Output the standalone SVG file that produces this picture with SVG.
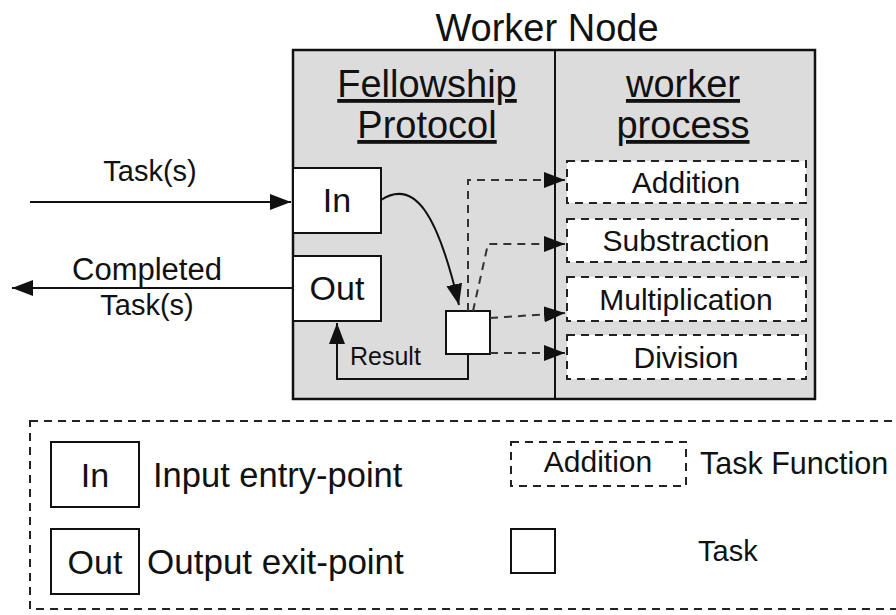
<svg xmlns="http://www.w3.org/2000/svg" width="896" height="615" viewBox="0 0 896 615">
<style>
text{font-family:"Liberation Sans",Arial,sans-serif;fill:#111}
.box{fill:#fff;stroke:#111;stroke-width:2}
.dbox{fill:#fff;stroke:#222;stroke-width:2;stroke-dasharray:8,6}
.ln{fill:none;stroke:#111;stroke-width:2}
.dl{fill:none;stroke:#333;stroke-width:2;stroke-dasharray:8,6}
.c{text-anchor:middle}
.u{text-decoration:underline}
</style>
<defs>
<marker id="ah" markerUnits="userSpaceOnUse" markerWidth="21" markerHeight="16" refX="21" refY="8" orient="auto">
<path d="M0,0 L21,8 L0,16 Z" fill="#111"/>
</marker>
</defs>
<g id="worker-node">
<rect x="293" y="50" width="522" height="349" fill="#dcdcdc" stroke="#111" stroke-width="2.5"/>
<line x1="555" y1="50" x2="555" y2="399" stroke="#111" stroke-width="2"/>
<text x="547" y="41" class="c" font-size="38">Worker Node</text>
<text x="427" y="97" class="c u" font-size="38">Fellowship</text>
<text x="427" y="138" class="c u" font-size="38">Protocol</text>
<text x="683" y="97" class="c u" font-size="38">worker</text>
<text x="683" y="138" class="c u" font-size="38">process</text>
</g>
<g id="in"><rect class="box" x="293" y="168" width="88" height="65"/><text x="337" y="212" class="c" font-size="34">In</text></g>
<g id="out"><rect class="box" x="293" y="256" width="88" height="65"/><text x="337" y="300" class="c" font-size="34">Out</text></g>
<g id="task"><rect class="box" x="446" y="311" width="44" height="43"/></g>
<g id="addition"><rect class="dbox" x="567" y="161" width="239" height="42"/><text x="686" y="193" class="c" font-size="30">Addition</text></g>
<g id="substraction"><rect class="dbox" x="567" y="219" width="239" height="43"/><text x="686" y="251" class="c" font-size="30">Substraction</text></g>
<g id="multiplication"><rect class="dbox" x="567" y="277" width="239" height="44"/><text x="686" y="310" class="c" font-size="30">Multiplication</text></g>
<g id="division"><rect class="dbox" x="567" y="335" width="239" height="44"/><text x="686" y="368" class="c" font-size="30">Division</text></g>
<g id="connectors">
<line class="ln" x1="30" y1="202" x2="291" y2="202" marker-end="url(#ah)"/>
<text x="150" y="181" class="c" font-size="29">Task(s)</text>
<line class="ln" x1="293" y1="288" x2="12" y2="288" marker-end="url(#ah)"/>
<text x="147" y="280" class="c" font-size="31">Completed</text>
<text x="147" y="315" class="c" font-size="29">Task(s)</text>
<path class="ln" d="M381,200 C415,178 438,215 459,305" marker-end="url(#ah)"/>
<path class="dl" d="M468,311 V180 H565" marker-end="url(#ah)"/>
<path class="dl" d="M473,311 L488,244 H565" marker-end="url(#ah)"/>
<path class="dl" d="M490,318 L565,313" marker-end="url(#ah)"/>
<path class="dl" d="M490,353 H565" marker-end="url(#ah)"/>
<path class="ln" d="M468,354 V379 H337 V323" marker-end="url(#ah)"/>
<text x="350" y="365" font-size="25">Result</text>
</g>
<g id="legend">
<rect x="30" y="421" width="900" height="188" fill="none" stroke="#222" stroke-width="2" stroke-dasharray="8,6"/>
<rect class="box" x="51" y="442" width="88" height="65"/><text x="95" y="487" class="c" font-size="34">In</text>
<text x="153" y="487" font-size="34.5">Input entry-point</text>
<rect class="box" x="51" y="529" width="88" height="65"/><text x="95" y="574" class="c" font-size="34">Out</text>
<text x="147" y="574" font-size="35">Output exit-point</text>
<rect class="dbox" x="511" y="442" width="175" height="44"/><text x="598" y="472" class="c" font-size="30">Addition</text>
<text x="700" y="474" font-size="30.5">Task Function</text>
<rect class="box" x="511" y="529" width="44" height="44"/>
<text x="698" y="561" font-size="29">Task</text>
</g>
</svg>
